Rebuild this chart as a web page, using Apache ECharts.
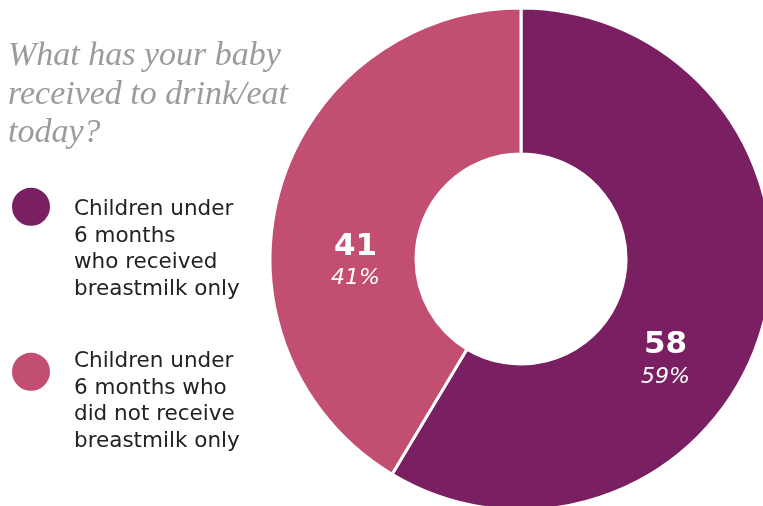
<!DOCTYPE html>
<html>
<head>
<meta charset="utf-8">
<script src="https://cdn.jsdelivr.net/npm/echarts@6/dist/echarts.min.js"></script>
<style>
  html, body { margin: 0; padding: 0; background: #ffffff; }
  #chart { width: 763px; height: 506px; }
</style>
</head>
<body>
<div id="chart"></div>
<script>
// Breastfeeding status of children under 6 months
const categories = [
  'Children under\n6 months\nwho received\nbreastmilk only',
  'Children under\n6 months who\ndid not receive\nbreastmilk only'
];
const counts = [58, 41];
const colors = ['#7a2062', '#c24f72'];
const titleText = 'What has your baby\nreceived to drink/eat\ntoday?';

const chart = echarts.init(document.getElementById('chart'), null, { renderer: 'canvas' });

const legendText = {
  fontFamily: 'DejaVu Sans',
  fontSize: 21.5,
  lineHeight: 26.5,
  color: '#222222',
  padding: [0, 0, 0, 18]
};

// An empty spacer line of height `gap` sits above the label text, so the
// text block starts near the dot instead of being centred on it.
function legendFor(name, top, gap) {
  return {
    data: [name],
    left: 10,
    top: top,
    padding: 0,
    orient: 'vertical',
    icon: 'circle',
    itemWidth: 40,
    itemHeight: 40,
    selectedMode: false,
    formatter: n => '{gap| }\n' + n,
    textStyle: Object.assign({}, legendText, {
      rich: { gap: { lineHeight: gap, fontSize: 10 } }
    })
  };
}

chart.setOption({
  animation: false,
  color: colors,
  title: {
    text: titleText,
    left: 8,
    top: 37,
    padding: 0,
    textStyle: {
      fontFamily: 'Liberation Serif',
      fontStyle: 'italic',
      fontWeight: 'normal',
      fontSize: 34,
      lineHeight: 38.5,
      color: '#9b9b9b'
    }
  },
  legend: [
    legendFor(categories[0], 111, 85.5),
    legendFor(categories[1], 289, 59.5)
  ],
  series: [{
    type: 'pie',
    center: [521, 259],
    radius: [105, 251],
    startAngle: 90,
    clockwise: true,
    percentPrecision: 0,
    itemStyle: { borderColor: '#ffffff', borderWidth: 3 },
    label: {
      position: 'inside',
      formatter: '{v|{c}}\n{p|{d}%}',
      rich: {
        v: { fontFamily: 'DejaVu Sans', fontWeight: 'bold', fontSize: 31, color: '#ffffff', lineHeight: 34, align: 'center' },
        p: { fontFamily: 'DejaVu Sans', fontStyle: 'italic', fontSize: 22, color: '#ffffff', lineHeight: 30, align: 'center' }
      }
    },
    labelLine: { show: false },
    emphasis: { disabled: true },
    labelLayout: function (params) {
      const shifts = [[-30, 53], [9, 51]];
      const s = shifts[params.dataIndex] || [0, 0];
      return { dx: s[0], dy: s[1] };
    },
    data: categories.map((name, i) => ({ name: name, value: counts[i] }))
  }]
});
</script>
</body>
</html>
